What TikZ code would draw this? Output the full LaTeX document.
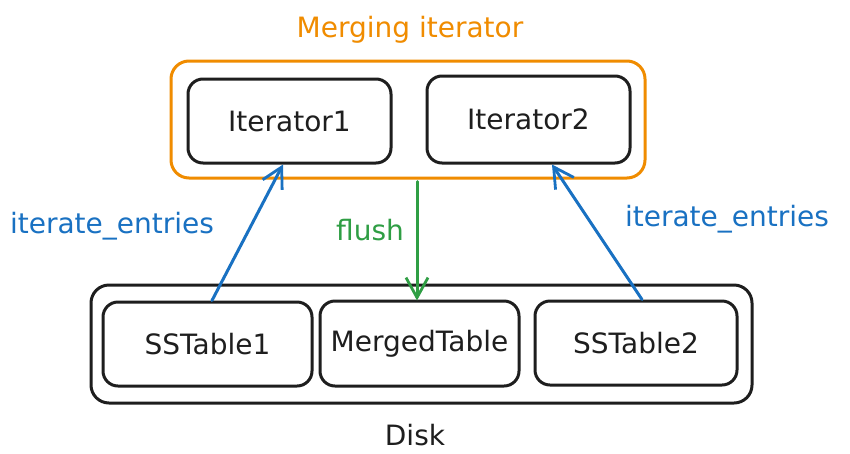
\documentclass[tikz,border=0pt]{standalone}
\usepackage{fontspec}
\setmainfont{DejaVu Sans}
\usetikzlibrary{arrows.meta,calc}
\definecolor{exorange}{HTML}{F08C00}
\definecolor{exblue}{HTML}{1971C2}
\definecolor{exgreen}{HTML}{2F9E44}
\definecolor{exblack}{HTML}{1E1E1E}
\begin{document}
\begin{tikzpicture}[x=1pt,y=-1pt,
  every node/.style={font=\fontsize{28}{32}\selectfont},
  box/.style={draw=exblack,line width=3pt,rounded corners=15pt,text=exblack,inner sep=0pt},
  outerbox/.style={draw=#1,line width=3pt,rounded corners=18pt,inner sep=0pt},
  lbl/.style={inner sep=0pt,anchor=center},
  conn/.style={line width=3pt,line cap=round,-{Straight Barb[length=20pt,width=22pt,line width=2.8pt]}}
]
\useasboundingbox (0,0) rectangle (850,453);
\fill[white] (0,0) rectangle (850,453);
% containers
\node[outerbox=exorange,minimum width=474pt,minimum height=117pt] (mi) at (408,119.5) {};
\node[outerbox=exblack,minimum width=661pt,minimum height=118pt] (disk) at (421.5,344) {};
% inner boxes
\node[box,minimum width=203pt,minimum height=84pt] (it1) at (289.5,121) {Iterator1};
\node[box,minimum width=203pt,minimum height=87pt] (it2) at (528.5,119.5) {Iterator2};
\node[box,minimum width=209pt,minimum height=84pt] (s1) at (207.5,344) {SSTable1};
\node[box,minimum width=199pt,minimum height=85pt] (mt) at (419.5,343.5) {MergedTable};
\node[box,minimum width=202pt,minimum height=84pt] (s2) at (636,343) {SSTable2};
% labels
\node[lbl,text=exorange] (tmi) at (410,30) {Merging iterator};
\node[lbl,text=exblack] (tdisk) at (415,435) {Disk};
\node[lbl,text=exgreen] (tflush) at (370,230) {flush};
\node[lbl,text=exblue] (tie1) at (112,226) {iterate\_entries};
\node[lbl,text=exblue] (tie2) at (727,219) {iterate\_entries};
% connectors
\draw[conn,exblue] ($(s1.north)+(4.5,0)$) -- ($(it1.south)+(-6.5,0)$);
\draw[conn,exblue] ($(s2.north)+(6,0)$) -- ($(it2.south)+(23.5,0)$);
\draw[conn,exgreen] ($(mi.south)+(9,2)$) -- ($(mt.north)+(-2.5,1)$);
\end{tikzpicture}
\end{document}
